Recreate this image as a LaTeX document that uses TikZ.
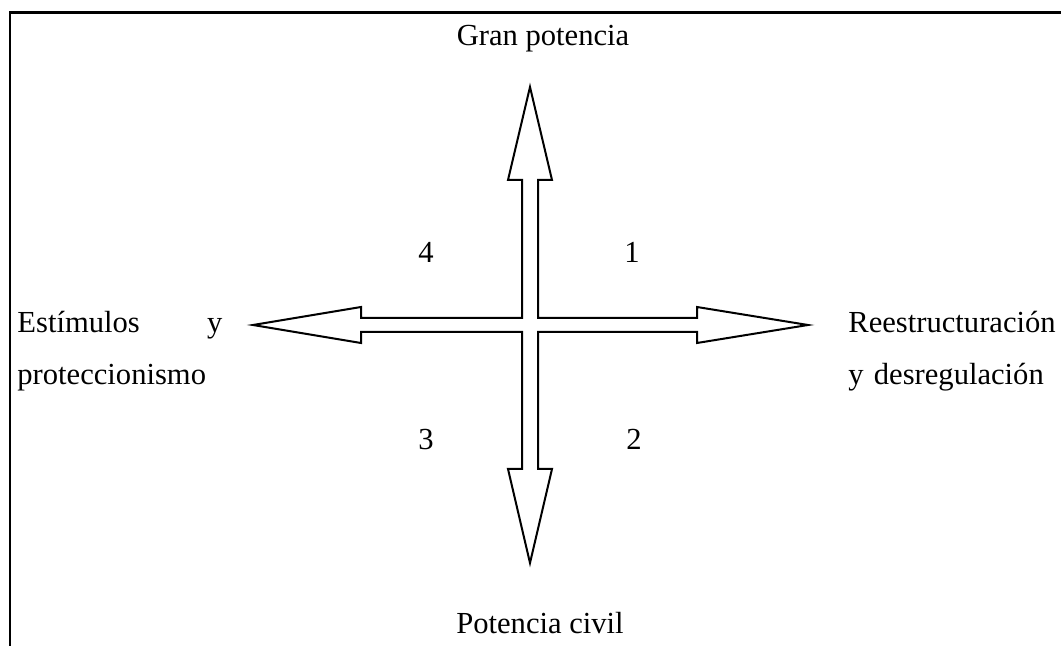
\documentclass[tikz,border=0pt]{standalone}
\usepackage{fontspec}
\setmainfont{Liberation Serif}
\begin{document}
\begin{tikzpicture}[x=0.5pt,y=-0.5pt,
  lbl/.style={inner sep=0pt,font=\fontsize{15.3}{26}\selectfont},
  outline/.style={draw=black,line width=1pt,line join=miter}]
\useasboundingbox (0,0) rectangle (1061,646);
\fill[white] (0,0) rectangle (1061,646);
% frame (top and left visible)
\draw[line width=1.3pt] (10,646) -- (10,12.5) -- (1061,12.5);
% cross-shaped double arrow
\draw[outline] (530,87) -- (552,180) -- (538,180) -- (538,318) -- (697,318) -- (697,307)
  -- (808,325) -- (697,343) -- (697,332) -- (538,332) -- (538,469) -- (552,469)
  -- (530,563) -- (508,469) -- (522,469) -- (522,332) -- (361,332) -- (361,343)
  -- (253,325) -- (361,307) -- (361,318) -- (522,318) -- (522,180) -- (508,180) -- cycle;
% labels
\node[lbl,anchor=base] (top) at (543,46) {Gran potencia};
\node[lbl,anchor=base] (bot) at (540,633) {Potencia civil};
\node[lbl,anchor=base] (q4) at (426,263) {4};
\node[lbl,anchor=base] (q1) at (632,263) {1};
\node[lbl,anchor=base] (q3) at (426,450) {3};
\node[lbl,anchor=base] (q2) at (634,450) {2};
\node[lbl,anchor=base west,text width=102.5pt,align=left] (left) at (17,333)
  {Estímulos\hfill y\\proteccionismo};
\node[lbl,anchor=base west,text width=106pt,align=left] (right) at (848,333)
  {Reestructuración\\y desregulación};
\end{tikzpicture}
\end{document}
